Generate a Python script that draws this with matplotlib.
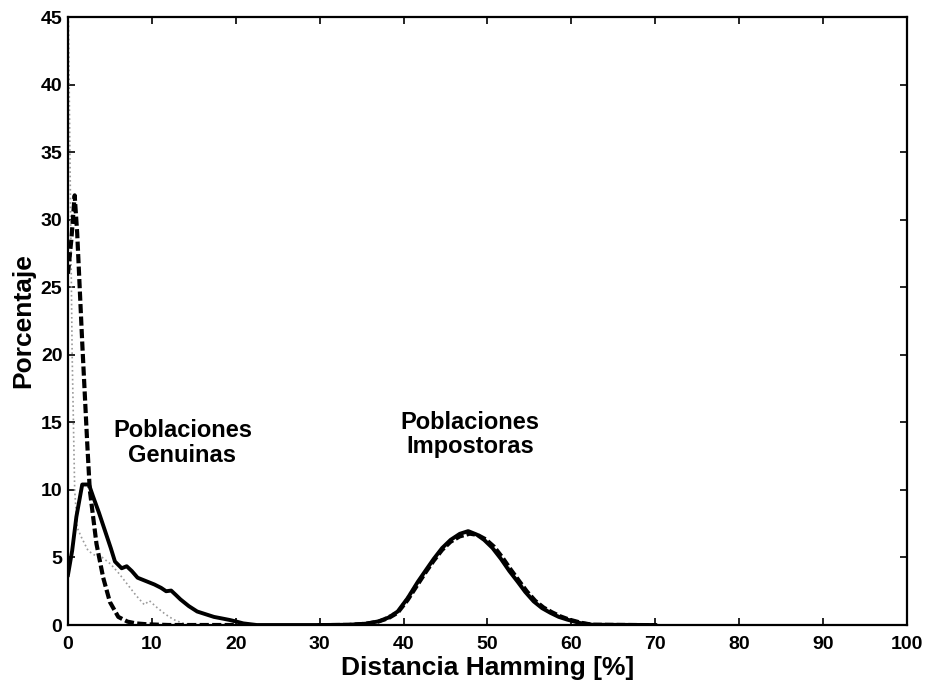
import matplotlib.pyplot as plt

# ============================================================
# Data
# ============================================================

# genuine populations
gen_solid_x = [0, 0.5, 1.0, 1.7, 2.5, 3.0, 3.7, 4.4, 5.1, 5.6, 6.4, 7.0, 7.6, 8.3, 9.1, 9.9, 10.3,
               11.1, 11.7, 12.3, 12.9, 13.4, 14.4, 15.4, 16.4, 17.4, 18.4, 19.3, 20.1, 20.9, 22.5, 30]
gen_solid_y = [3.7, 5.5, 8.0, 10.4, 10.4, 9.5, 8.3, 7.0, 5.7, 4.7, 4.2, 4.35, 4.0, 3.5, 3.3, 3.1, 3.0,
               2.75, 2.5, 2.55, 2.2, 1.9, 1.4, 1.0, 0.8, 0.6, 0.48, 0.37, 0.25, 0.12, 0.0, 0.0]

gen_dash_x = [0, 0.4, 0.8, 1.1, 1.7, 2.3, 2.6, 3.4, 4.2, 5.0, 6.0, 7.1, 8.1, 9.5, 12, 20]
gen_dash_y = [26.0, 28.5, 31.8, 29.0, 20.9, 13.4, 10.0, 6.0, 3.5, 1.7, 0.6, 0.25, 0.12, 0.05, 0.0, 0.0]

gen_gray_x = [0, 0.5, 0.8, 1.1, 1.6, 2.4, 3.1, 4.1, 5.1, 6.1, 7.1, 8.1, 9.1, 9.7, 10.6, 11.6, 12.6, 13.6, 14.6, 20]
gen_gray_y = [48, 20, 10, 7.2, 6.5, 5.5, 5.2, 5.0, 4.5, 3.8, 3.0, 2.2, 1.5, 1.8, 1.3, 0.8, 0.4, 0.15, 0.0, 0.0]

# impostor populations
imp_solid_x = [30, 33.5, 35.5, 37.0, 38.2, 39.3, 40.5, 41.7, 42.7, 43.6, 44.6, 45.6, 46.7, 47.7, 48.7, 49.6,
               50.6, 51.6, 52.6, 53.6, 54.5, 55.5, 56.5, 57.5, 58.5, 59.5, 61.0, 62.5, 70]
imp_solid_y = [0.0, 0.02, 0.1, 0.27, 0.55, 1.0, 2.0, 3.2, 4.1, 4.9, 5.7, 6.3, 6.75, 6.95, 6.7, 6.3,
               5.7, 4.9, 4.0, 3.2, 2.45, 1.75, 1.25, 0.9, 0.6, 0.4, 0.15, 0.02, 0.0]

imp_dash_x = [30, 33.5, 35.5, 37.0, 38.2, 39.3, 40.5, 41.7, 42.7, 43.6, 44.6, 45.6, 46.7, 47.9, 48.9, 49.8,
              50.8, 51.8, 52.8, 53.8, 54.7, 55.7, 56.7, 57.7, 58.7, 59.7, 61.2, 62.5, 70]
imp_dash_y = [0.0, 0.02, 0.1, 0.25, 0.5, 0.9, 1.85, 3.0, 3.95, 4.75, 5.55, 6.15, 6.55, 6.75, 6.65, 6.35,
              5.8, 5.0, 4.1, 3.25, 2.5, 1.8, 1.3, 0.95, 0.65, 0.42, 0.17, 0.03, 0.0]

imp_gray_x = [30, 34.5, 37.0, 39.3, 41.7, 43.6, 45.6, 47.8, 49.7, 51.7, 53.7, 55.6, 57.6, 59.6, 61.5, 70]
imp_gray_y = [0.0, 0.05, 0.3, 1.05, 3.25, 4.95, 6.3, 6.85, 6.35, 5.0, 3.3, 1.8, 0.95, 0.42, 0.05, 0.0]

x_ticks = list(range(0, 101, 10))
y_ticks = list(range(0, 46, 5))

# ============================================================
# Plot
# ============================================================

plt.rcParams['font.family'] = ['Liberation Sans', 'DejaVu Sans']

fig = plt.figure(figsize=(9.31, 6.86), dpi=100)
ax = fig.add_axes([0.0730, 0.0889, 0.9012, 0.8863])

GRAY = '#9a9a9a'

ax.plot(gen_gray_x, gen_gray_y, color=GRAY, linewidth=1.2, linestyle=':')
ax.plot(imp_gray_x, imp_gray_y, color=GRAY, linewidth=1.2, linestyle=':')
ax.plot(gen_solid_x, gen_solid_y, color='black', linewidth=2.8)
ax.plot(imp_solid_x, imp_solid_y, color='black', linewidth=2.8)
ax.plot(gen_dash_x, gen_dash_y, color='black', linewidth=3.0, linestyle=(0, (2.2, 0.8)))
ax.plot(imp_dash_x, imp_dash_y, color='black', linewidth=2.8, linestyle=(0, (2.2, 0.8)))

ax.set_xlim(0, 100)
ax.set_ylim(0, 45)
ax.set_xticks(x_ticks)
ax.set_yticks(y_ticks)

ax.tick_params(direction='in', top=True, right=True, length=5, width=1.2, pad=4)
ax.tick_params(axis='x', pad=8)
for lbl in ax.get_xticklabels() + ax.get_yticklabels():
    lbl.set_fontsize(14)
    lbl.set_fontweight('bold')
for spine in ax.spines.values():
    spine.set_linewidth(1.6)

ax.set_xlabel('Distancia Hamming [%]', fontsize=19, fontweight='bold', labelpad=2)
ax.set_ylabel('Porcentaje', fontsize=19, fontweight='bold', labelpad=4)

ax.text(13.65, 13.5, 'Poblaciones\nGenuinas', ha='center', va='center',
        fontsize=17, fontweight='bold', linespacing=1.1)
ax.text(47.9, 14.1, 'Poblaciones\nImpostoras', ha='center', va='center',
        fontsize=17, fontweight='bold', linespacing=1.1)

plt.savefig('out.png', dpi=100)
